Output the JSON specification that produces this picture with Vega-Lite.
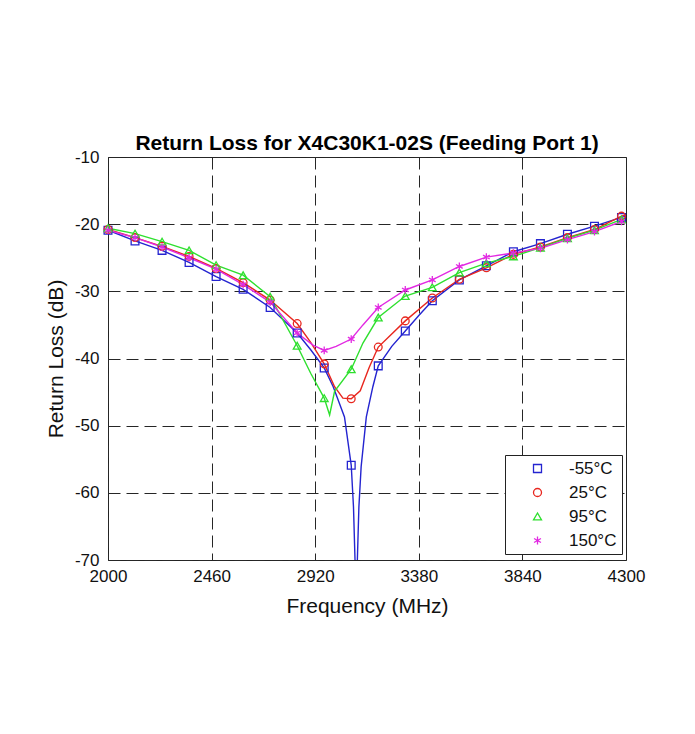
{
  "$schema": "https://vega.github.io/schema/vega-lite/v6.json",
  "autosize": {"type": "none"},
  "padding": {"left": 108, "top": 157, "right": 69, "bottom": 174},
  "width": 518,
  "height": 403,
  "background": "white",
  "title": {"text": "Return Loss for X4C30K1-02S (Feeding Port 1)", "font": "Liberation Sans", "fontSize": 21, "fontWeight": "bold", "color": "black", "offset": -6, "anchor": "middle"},
  "datasets": {
    "lines": [
      {"f": 2000, "rl": -20.9, "temp": "-55°C"}, {"f": 2120, "rl": -22.5, "temp": "-55°C"}, {"f": 2240, "rl": -23.9, "temp": "-55°C"}, {"f": 2360, "rl": -25.7, "temp": "-55°C"}, {"f": 2480, "rl": -27.8, "temp": "-55°C"}, {"f": 2600, "rl": -29.7, "temp": "-55°C"}, {"f": 2720, "rl": -32.4, "temp": "-55°C"}, {"f": 2840, "rl": -36.2, "temp": "-55°C"}, {"f": 2900, "rl": -38.7, "temp": "-55°C"}, {"f": 2960, "rl": -41.4, "temp": "-55°C"}, {"f": 3000, "rl": -44.2, "temp": "-55°C"}, {"f": 3050, "rl": -48.7, "temp": "-55°C"}, {"f": 3080, "rl": -55.9, "temp": "-55°C"}, {"f": 3090, "rl": -62.1, "temp": "-55°C"}, {"f": 3102, "rl": -76, "temp": "-55°C"}, {"f": 3114, "rl": -62.1, "temp": "-55°C"}, {"f": 3124, "rl": -56.1, "temp": "-55°C"}, {"f": 3147, "rl": -48.7, "temp": "-55°C"}, {"f": 3176, "rl": -44.2, "temp": "-55°C"}, {"f": 3200, "rl": -41.1, "temp": "-55°C"}, {"f": 3260, "rl": -38.2, "temp": "-55°C"}, {"f": 3320, "rl": -35.9, "temp": "-55°C"}, {"f": 3380, "rl": -33.6, "temp": "-55°C"}, {"f": 3440, "rl": -31.4, "temp": "-55°C"}, {"f": 3560, "rl": -28.3, "temp": "-55°C"}, {"f": 3680, "rl": -26.2, "temp": "-55°C"}, {"f": 3800, "rl": -24.1, "temp": "-55°C"}, {"f": 3920, "rl": -22.9, "temp": "-55°C"}, {"f": 4040, "rl": -21.5, "temp": "-55°C"}, {"f": 4160, "rl": -20.3, "temp": "-55°C"}, {"f": 4280, "rl": -19.0, "temp": "-55°C"}, {"f": 4300, "rl": -18.8, "temp": "-55°C"},
      {"f": 2000, "rl": -20.8, "temp": "25°C"}, {"f": 2120, "rl": -22.0, "temp": "25°C"}, {"f": 2240, "rl": -23.3, "temp": "25°C"}, {"f": 2360, "rl": -24.8, "temp": "25°C"}, {"f": 2480, "rl": -26.6, "temp": "25°C"}, {"f": 2600, "rl": -28.7, "temp": "25°C"}, {"f": 2720, "rl": -31.3, "temp": "25°C"}, {"f": 2840, "rl": -34.8, "temp": "25°C"}, {"f": 2900, "rl": -37.6, "temp": "25°C"}, {"f": 2960, "rl": -40.8, "temp": "25°C"}, {"f": 3006, "rl": -44.2, "temp": "25°C"}, {"f": 3043, "rl": -45.9, "temp": "25°C"}, {"f": 3080, "rl": -46.0, "temp": "25°C"}, {"f": 3120, "rl": -44.8, "temp": "25°C"}, {"f": 3160, "rl": -41.3, "temp": "25°C"}, {"f": 3200, "rl": -38.3, "temp": "25°C"}, {"f": 3320, "rl": -34.4, "temp": "25°C"}, {"f": 3440, "rl": -31.0, "temp": "25°C"}, {"f": 3560, "rl": -28.2, "temp": "25°C"}, {"f": 3680, "rl": -26.5, "temp": "25°C"}, {"f": 3800, "rl": -24.5, "temp": "25°C"}, {"f": 3920, "rl": -23.4, "temp": "25°C"}, {"f": 4040, "rl": -22.0, "temp": "25°C"}, {"f": 4160, "rl": -20.8, "temp": "25°C"}, {"f": 4280, "rl": -18.8, "temp": "25°C"}, {"f": 4300, "rl": -18.6, "temp": "25°C"},
      {"f": 2000, "rl": -20.6, "temp": "95°C"}, {"f": 2120, "rl": -21.4, "temp": "95°C"}, {"f": 2240, "rl": -22.6, "temp": "95°C"}, {"f": 2360, "rl": -23.9, "temp": "95°C"}, {"f": 2480, "rl": -26.1, "temp": "95°C"}, {"f": 2600, "rl": -27.6, "temp": "95°C"}, {"f": 2720, "rl": -30.8, "temp": "95°C"}, {"f": 2840, "rl": -38.1, "temp": "95°C"}, {"f": 2900, "rl": -42.2, "temp": "95°C"}, {"f": 2960, "rl": -45.9, "temp": "95°C"}, {"f": 2984, "rl": -48.4, "temp": "95°C"}, {"f": 3006, "rl": -44.9, "temp": "95°C"}, {"f": 3080, "rl": -41.6, "temp": "95°C"}, {"f": 3132, "rl": -37.7, "temp": "95°C"}, {"f": 3200, "rl": -33.9, "temp": "95°C"}, {"f": 3320, "rl": -30.7, "temp": "95°C"}, {"f": 3440, "rl": -29.4, "temp": "95°C"}, {"f": 3560, "rl": -27.2, "temp": "95°C"}, {"f": 3680, "rl": -25.8, "temp": "95°C"}, {"f": 3800, "rl": -24.8, "temp": "95°C"}, {"f": 3920, "rl": -23.5, "temp": "95°C"}, {"f": 4040, "rl": -22.1, "temp": "95°C"}, {"f": 4160, "rl": -20.9, "temp": "95°C"}, {"f": 4280, "rl": -19.3, "temp": "95°C"}, {"f": 4300, "rl": -19.1, "temp": "95°C"},
      {"f": 2000, "rl": -20.9, "temp": "150°C"}, {"f": 2120, "rl": -22.0, "temp": "150°C"}, {"f": 2240, "rl": -23.4, "temp": "150°C"}, {"f": 2360, "rl": -25.0, "temp": "150°C"}, {"f": 2480, "rl": -26.7, "temp": "150°C"}, {"f": 2600, "rl": -29.0, "temp": "150°C"}, {"f": 2720, "rl": -31.6, "temp": "150°C"}, {"f": 2840, "rl": -36.2, "temp": "150°C"}, {"f": 2910, "rl": -38.0, "temp": "150°C"}, {"f": 2960, "rl": -38.8, "temp": "150°C"}, {"f": 3013, "rl": -38.2, "temp": "150°C"}, {"f": 3080, "rl": -37.1, "temp": "150°C"}, {"f": 3132, "rl": -35.0, "temp": "150°C"}, {"f": 3200, "rl": -32.4, "temp": "150°C"}, {"f": 3320, "rl": -29.8, "temp": "150°C"}, {"f": 3440, "rl": -28.3, "temp": "150°C"}, {"f": 3560, "rl": -26.3, "temp": "150°C"}, {"f": 3680, "rl": -24.9, "temp": "150°C"}, {"f": 3800, "rl": -24.3, "temp": "150°C"}, {"f": 3920, "rl": -23.6, "temp": "150°C"}, {"f": 4040, "rl": -22.3, "temp": "150°C"}, {"f": 4160, "rl": -21.1, "temp": "150°C"}, {"f": 4280, "rl": -19.6, "temp": "150°C"}, {"f": 4300, "rl": -19.4, "temp": "150°C"}
    ],
    "markers": [
      {"f": 2000, "rl": -20.9, "temp": "-55°C"}, {"f": 2120, "rl": -22.5, "temp": "-55°C"}, {"f": 2240, "rl": -23.9, "temp": "-55°C"}, {"f": 2360, "rl": -25.7, "temp": "-55°C"}, {"f": 2480, "rl": -27.8, "temp": "-55°C"}, {"f": 2600, "rl": -29.7, "temp": "-55°C"}, {"f": 2720, "rl": -32.4, "temp": "-55°C"}, {"f": 2840, "rl": -36.2, "temp": "-55°C"}, {"f": 2960, "rl": -41.4, "temp": "-55°C"}, {"f": 3080, "rl": -55.9, "temp": "-55°C"}, {"f": 3200, "rl": -41.1, "temp": "-55°C"}, {"f": 3320, "rl": -35.9, "temp": "-55°C"}, {"f": 3440, "rl": -31.4, "temp": "-55°C"}, {"f": 3560, "rl": -28.3, "temp": "-55°C"}, {"f": 3680, "rl": -26.2, "temp": "-55°C"}, {"f": 3800, "rl": -24.1, "temp": "-55°C"}, {"f": 3920, "rl": -22.9, "temp": "-55°C"}, {"f": 4040, "rl": -21.5, "temp": "-55°C"}, {"f": 4160, "rl": -20.3, "temp": "-55°C"}, {"f": 4280, "rl": -19.0, "temp": "-55°C"},
      {"f": 2000, "rl": -20.8, "temp": "25°C"}, {"f": 2120, "rl": -22.0, "temp": "25°C"}, {"f": 2240, "rl": -23.3, "temp": "25°C"}, {"f": 2360, "rl": -24.8, "temp": "25°C"}, {"f": 2480, "rl": -26.6, "temp": "25°C"}, {"f": 2600, "rl": -28.7, "temp": "25°C"}, {"f": 2720, "rl": -31.3, "temp": "25°C"}, {"f": 2840, "rl": -34.8, "temp": "25°C"}, {"f": 2960, "rl": -40.8, "temp": "25°C"}, {"f": 3080, "rl": -46.0, "temp": "25°C"}, {"f": 3200, "rl": -38.3, "temp": "25°C"}, {"f": 3320, "rl": -34.4, "temp": "25°C"}, {"f": 3440, "rl": -31.0, "temp": "25°C"}, {"f": 3560, "rl": -28.2, "temp": "25°C"}, {"f": 3680, "rl": -26.5, "temp": "25°C"}, {"f": 3800, "rl": -24.5, "temp": "25°C"}, {"f": 3920, "rl": -23.4, "temp": "25°C"}, {"f": 4040, "rl": -22.0, "temp": "25°C"}, {"f": 4160, "rl": -20.8, "temp": "25°C"}, {"f": 4280, "rl": -18.8, "temp": "25°C"},
      {"f": 2000, "rl": -20.6, "temp": "95°C"}, {"f": 2120, "rl": -21.4, "temp": "95°C"}, {"f": 2240, "rl": -22.6, "temp": "95°C"}, {"f": 2360, "rl": -23.9, "temp": "95°C"}, {"f": 2480, "rl": -26.1, "temp": "95°C"}, {"f": 2600, "rl": -27.6, "temp": "95°C"}, {"f": 2720, "rl": -30.8, "temp": "95°C"}, {"f": 2840, "rl": -38.1, "temp": "95°C"}, {"f": 2960, "rl": -45.9, "temp": "95°C"}, {"f": 3080, "rl": -41.6, "temp": "95°C"}, {"f": 3200, "rl": -33.9, "temp": "95°C"}, {"f": 3320, "rl": -30.7, "temp": "95°C"}, {"f": 3440, "rl": -29.4, "temp": "95°C"}, {"f": 3560, "rl": -27.2, "temp": "95°C"}, {"f": 3680, "rl": -25.8, "temp": "95°C"}, {"f": 3800, "rl": -24.8, "temp": "95°C"}, {"f": 3920, "rl": -23.5, "temp": "95°C"}, {"f": 4040, "rl": -22.1, "temp": "95°C"}, {"f": 4160, "rl": -20.9, "temp": "95°C"}, {"f": 4280, "rl": -19.3, "temp": "95°C"},
      {"f": 2000, "rl": -20.9, "temp": "150°C"}, {"f": 2120, "rl": -22.0, "temp": "150°C"}, {"f": 2240, "rl": -23.4, "temp": "150°C"}, {"f": 2360, "rl": -25.0, "temp": "150°C"}, {"f": 2480, "rl": -26.7, "temp": "150°C"}, {"f": 2600, "rl": -29.0, "temp": "150°C"}, {"f": 2720, "rl": -31.6, "temp": "150°C"}, {"f": 2840, "rl": -36.2, "temp": "150°C"}, {"f": 2960, "rl": -38.8, "temp": "150°C"}, {"f": 3080, "rl": -37.1, "temp": "150°C"}, {"f": 3200, "rl": -32.4, "temp": "150°C"}, {"f": 3320, "rl": -29.8, "temp": "150°C"}, {"f": 3440, "rl": -28.3, "temp": "150°C"}, {"f": 3560, "rl": -26.3, "temp": "150°C"}, {"f": 3680, "rl": -24.9, "temp": "150°C"}, {"f": 3800, "rl": -24.3, "temp": "150°C"}, {"f": 3920, "rl": -23.6, "temp": "150°C"}, {"f": 4040, "rl": -22.3, "temp": "150°C"}, {"f": 4160, "rl": -21.1, "temp": "150°C"}, {"f": 4280, "rl": -19.6, "temp": "150°C"}
    ]
  },
  "layer": [
    {
      "data": {"name": "lines"},
      "transform": [{"filter": "datum.temp == '-55°C'"}],
      "mark": {"type": "line", "clip": true, "strokeWidth": 1.4, "color": "#2424d0"},
      "encoding": {"x": {"field": "f", "type": "quantitative"}, "y": {"field": "rl", "type": "quantitative"}}
    },
    {
      "data": {"name": "lines"},
      "transform": [{"filter": "datum.temp == '25°C'"}],
      "mark": {"type": "line", "clip": true, "strokeWidth": 1.4, "color": "#e8261e"},
      "encoding": {"x": {"field": "f", "type": "quantitative"}, "y": {"field": "rl", "type": "quantitative"}}
    },
    {
      "data": {"name": "lines"},
      "transform": [{"filter": "datum.temp == '95°C'"}],
      "mark": {"type": "line", "clip": true, "strokeWidth": 1.4, "color": "#2ee02e"},
      "encoding": {"x": {"field": "f", "type": "quantitative"}, "y": {"field": "rl", "type": "quantitative"}}
    },
    {
      "data": {"name": "lines"},
      "transform": [{"filter": "datum.temp == '150°C'"}],
      "mark": {"type": "line", "clip": true, "strokeWidth": 1.4, "color": "#e22ae2"},
      "encoding": {"x": {"field": "f", "type": "quantitative"}, "y": {"field": "rl", "type": "quantitative"}}
    },
    {
      "data": {"name": "markers"},
      "mark": {"type": "point", "filled": false, "strokeWidth": 1.3, "size": 60, "opacity": 1},
      "encoding": {
        "x": {"field": "f", "type": "quantitative",
          "scale": {"domain": [2000, 4300], "nice": false, "zero": false},
          "axis": {"values": [2000, 2460, 2920, 3380, 3840, 4300], "title": "Frequency (MHz)", "labelExpr": "'' + datum.value"}},
        "y": {"field": "rl", "type": "quantitative",
          "scale": {"domain": [-70, -10], "nice": false, "zero": false},
          "axis": {"values": [-70, -60, -50, -40, -30, -20, -10], "title": "Return Loss (dB)", "labelExpr": "'' + datum.value"}},
        "color": {"field": "temp", "type": "nominal", "title": null,
          "scale": {"domain": ["-55°C", "25°C", "95°C", "150°C"], "range": ["#2424d0", "#e8261e", "#2ee02e", "#e22ae2"]},
          "legend": {"orient": "none", "legendX": 397, "legendY": 298, "strokeColor": "#222222", "fillColor": "white", "padding": 5,
            "labelFontSize": 17, "labelColor": "#111111", "symbolOffset": 19, "labelOffset": 23, "rowPadding": 6, "symbolSize": 64, "symbolStrokeWidth": 1.3}},
        "shape": {"field": "temp", "type": "nominal", "title": null,
          "scale": {"domain": ["-55°C", "25°C", "95°C", "150°C"], "range": ["square", "circle", "triangle-up", "M0,-1L0,1M-0.866,-0.5L0.866,0.5M-0.866,0.5L0.866,-0.5"]},
          "legend": {"orient": "none", "legendX": 397, "legendY": 298, "strokeColor": "#222222", "fillColor": "white", "padding": 5,
            "labelFontSize": 17, "labelColor": "#111111", "symbolOffset": 19, "labelOffset": 23, "rowPadding": 6, "symbolSize": 64, "symbolStrokeWidth": 1.3}}
      }
    }
  ],
  "config": {
    "font": "Liberation Sans",
    "view": {"stroke": "#222222", "strokeWidth": 1},
    "axis": {
      "grid": true, "gridColor": "#262626", "gridDash": [12, 6], "gridWidth": 1, "gridOpacity": 1,
      "domain": false, "ticks": false,
      "labelFont": "Liberation Sans", "labelFontSize": 17, "labelColor": "#111111",
      "titleFont": "Liberation Sans", "titleFontSize": 21, "titleFontWeight": "normal", "titleColor": "#111111"
    },
    "axisX": {"labelPadding": 8, "titlePadding": 11, "labelFlush": false},
    "axisY": {"labelPadding": 9, "titlePadding": 8}
  }
}
